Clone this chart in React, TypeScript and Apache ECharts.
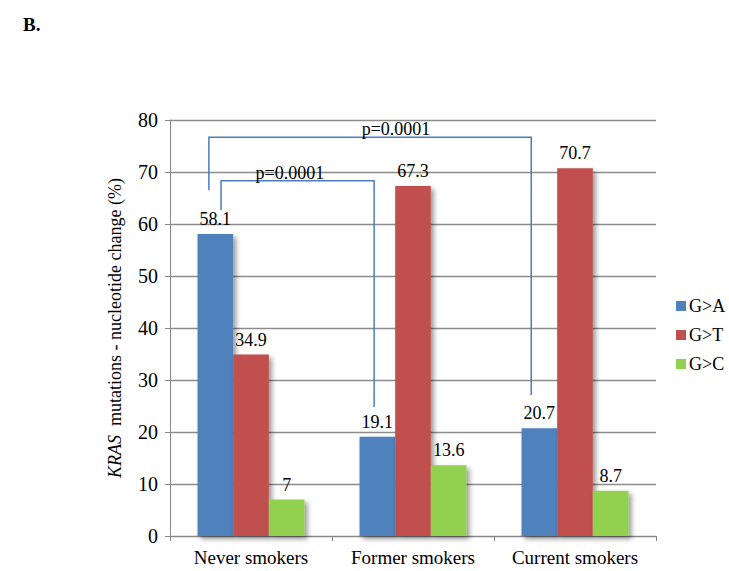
import React, { useEffect, useRef } from "react";
import * as echarts from "echarts";

const CATEGORIES = ["Never smokers", "Former smokers", "Current smokers"];
const SERIES_NAMES = ["G>A", "G>T", "G>C"];
const G_A = [58.1, 19.1, 20.7];
const G_T = [34.9, 67.3, 70.7];
const G_C = [7, 13.6, 8.7];
const COLORS = ["#4f81bd", "#c0504d", "#92d050"];
const Y_TICKS = [0, 10, 20, 30, 40, 50, 60, 70, 80];

// significance brackets (in data units: category index + fraction of band, value)
const BRACKETS = [
  { text: "p=0.0001", from: 0, fromOff: -0.185, fromBottom: 62.7, top: 68.3, to: 1, toOff: -0.24, toBottom: 24.8, labelCat: 0, labelOff: 0.24 },
  { text: "p=0.0001", from: 0, fromOff: -0.26, fromBottom: 66.5, top: 76.7, to: 2, toOff: -0.27, toBottom: 27.1, labelCat: 0, labelOff: 0.895 },
];

const FONT = "Liberation Serif";

export default function App() {
  const ref = useRef<HTMLDivElement>(null);
  useEffect(() => {
    if (!ref.current) return;
    const chart = echarts.init(ref.current, undefined, { renderer: "svg" });
    const values = [G_A, G_T, G_C];
    const barSeries = SERIES_NAMES.map((name, i) => ({
      name,
      type: "bar",
      data: values[i],
      barGap: "0%",
      barCategoryGap: "34%",
      itemStyle: {
        color: COLORS[i],
        shadowColor: "rgba(0,0,0,0.4)",
        shadowBlur: 5,
        shadowOffsetX: 3,
        shadowOffsetY: 3,
      },
      label: {
        show: true,
        position: "top",
        distance: 6,
        fontFamily: FONT,
        fontSize: 18,
        color: "#000",
      },
    }));
    const option: any = {
      animation: false,
      backgroundColor: "#fff",
      textStyle: { fontFamily: FONT },
      title: {
        text: "B.",
        left: 18,
        top: 10,
        textStyle: { fontFamily: FONT, fontSize: 19, fontWeight: "bold", color: "#000" },
      },
      legend: {
        data: SERIES_NAMES,
        orient: "vertical",
        left: 671,
        top: 292,
        itemWidth: 10,
        itemHeight: 10,
        itemGap: 11,
        icon: "rect",
        textStyle: { fontFamily: FONT, fontSize: 18, color: "#000", padding: [0, 0, 0, -2] },
      },
      grid: { left: 170, right: 73, top: 120, bottom: 35, containLabel: false },
      xAxis: {
        type: "category",
        data: CATEGORIES,
        axisLine: { lineStyle: { color: "#868686", width: 1 } },
        axisTick: { show: true, alignWithLabel: false, length: 5, lineStyle: { color: "#868686" } },
        axisLabel: { interval: 0, fontFamily: FONT, fontSize: 19, color: "#000", margin: 12 },
      },
      yAxis: {
        type: "value",
        min: Y_TICKS[0],
        max: Y_TICKS[Y_TICKS.length - 1],
        interval: 10,
        name: "{i|KRAS}  mutations - nucleotide change (%)",
        nameLocation: "middle",
        nameGap: 46,
        nameTextStyle: {
          fontFamily: FONT,
          fontSize: 18,
          color: "#000",
          rich: { i: { fontStyle: "italic", fontFamily: FONT, fontSize: 18, color: "#000" } },
        },
        axisLine: { show: true, lineStyle: { color: "#868686", width: 1 } },
        axisTick: { show: true, length: 5, lineStyle: { color: "#868686" } },
        axisLabel: { fontFamily: FONT, fontSize: 20, color: "#000", margin: 12 },
        splitLine: { show: true, lineStyle: { color: "#8c8c8c", width: 1.3 } },
      },
      series: [
        ...barSeries,
        {
          type: "custom",
          name: "brackets",
          silent: true,
          clip: false,
          z: 10,
          data: BRACKETS.map((b) => [b.from, b.top]),
          renderItem: (params: any, api: any) => {
            const b = BRACKETS[params.dataIndex];
            const band = api.size([1, 0])[0];
            const a = api.coord([b.from, b.fromBottom]);
            const t1 = api.coord([b.from, b.top]);
            const t2 = api.coord([b.to, b.top]);
            const c = api.coord([b.to, b.toBottom]);
            const x1 = a[0] + b.fromOff * band;
            const x2 = c[0] + b.toOff * band;
            const lx = api.coord([b.labelCat, b.top])[0] + b.labelOff * band;
            return {
              type: "group",
              children: [
                {
                  type: "polyline",
                  shape: { points: [[x1, a[1]], [x1, t1[1]], [x2, t2[1]], [x2, c[1]]] },
                  style: { stroke: "#4a7ebb", lineWidth: 1.5, fill: null },
                },
                {
                  type: "text",
                  x: lx,
                  y: t1[1] + 1,
                  style: {
                    text: b.text,
                    fontFamily: FONT,
                    fontSize: 18,
                    fill: "#000",
                    align: "center",
                    verticalAlign: "bottom",
                  },
                },
              ],
            };
          },
        },
      ],
    };
    chart.setOption(option);
    return () => chart.dispose();
  }, []);
  return (
    <div
      ref={ref}
      style={{ position: "fixed", left: 0, top: 0, width: 729, height: 571, background: "#fff" }}
    />
  );
}
